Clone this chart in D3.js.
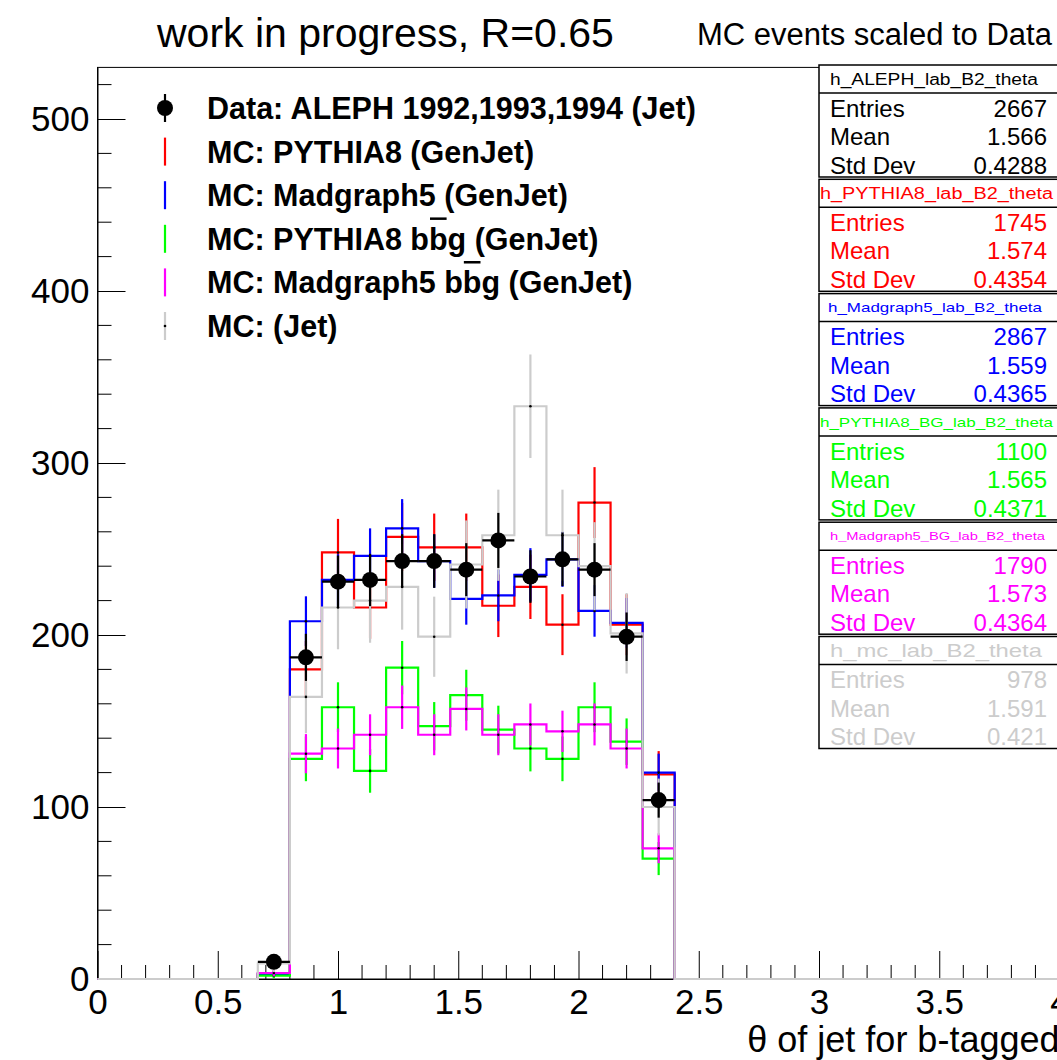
<!DOCTYPE html>
<html>
<head>
<meta charset="utf-8">
<script src="https://cdn.jsdelivr.net/npm/d3@7"></script>
<style>
  body { margin: 0; background: #fff; }
  svg { display: block; font-family: "Liberation Sans", Arial, Helvetica, sans-serif; }
</style>
</head>
<body>
<svg id="chart" width="1057" height="1060"></svg>
<script>
// ---- binning: 30 equal bins on [0, 4]; filled bins start at bin index 5 ----
const xMin = 0, xMax = 4, nBins = 30, firstBin = 5;

// ---- bin contents (bins 5..17) and their errors ----
const dataValues    = [10, 187, 231, 232, 243, 243, 238, 255, 234, 244, 238, 199, 104];
const dataErrors    = [3.2, 13.7, 15.2, 15.2, 15.6, 15.6, 15.4, 16.0, 15.3, 15.6, 15.4, 14.1, 10.2];

const pythiaValues  = [3, 180, 248, 216, 257, 251, 251, 217, 228, 206, 277, 206, 119];
const pythiaErrors  = [2.1, 16.6, 19.5, 18.2, 19.8, 19.6, 19.6, 18.2, 18.7, 17.7, 20.6, 17.7, 13.5];

const madgraphValues = [3, 208, 232, 246, 262, 243, 221, 223, 235, 244, 214, 207, 120];
const madgraphErrors = [2, 14.5, 15, 16, 17, 15.5, 15, 15, 15.5, 16, 15, 14.5, 11];

const pythiaBbgValues = [2, 128, 158, 121, 181, 147, 165, 145, 134, 128, 158, 138, 70];
const pythiaBbgErrors = [1.6, 13.0, 14.5, 12.7, 15.5, 14.0, 14.8, 13.9, 13.3, 13.0, 14.5, 13.5, 9.6];

const madgraphBbgValues = [3.5, 131, 134, 142, 158, 142, 157, 142, 148, 144, 148, 134, 76];
const madgraphBbgErrors = [1.9, 11.4, 11.6, 11.9, 12.6, 11.9, 12.5, 11.9, 12.2, 12.0, 12.2, 11.6, 8.7];

const jetValues = [9, 164, 216, 220, 228, 199, 241, 258, 333, 258, 240, 201, 100];
const jetErrors = [5.0, 21.1, 24.3, 24.5, 24.9, 23.3, 25.6, 26.5, 30.1, 26.5, 25.6, 23.4, 16.5];

// ---- legend labels ----
const legendLabels = [
  "Data: ALEPH 1992,1993,1994 (Jet)",
  "MC: PYTHIA8 (GenJet)",
  "MC: Madgraph5 (GenJet)",
  "MC: PYTHIA8 bbg (GenJet)",
  "MC: Madgraph5 bbg (GenJet)",
  "MC: (Jet)"
];

// ---- statistics boxes ----
const statNames   = ["h_ALEPH_lab_B2_theta", "h_PYTHIA8_lab_B2_theta", "h_Madgraph5_lab_B2_theta",
                     "h_PYTHIA8_BG_lab_B2_theta", "h_Madgraph5_BG_lab_B2_theta", "h_mc_lab_B2_theta"];
const statEntries = ["2667", "1745", "2867", "1100", "1790", "978"];
const statMeans   = ["1.566", "1.574", "1.559", "1.565", "1.573", "1.591"];
const statStdDevs = ["0.4288", "0.4354", "0.4365", "0.4371", "0.4364", "0.421"];

// ---- axis ticks ----
const xTickValues = [0, 0.5, 1, 1.5, 2, 2.5, 3, 3.5, 4];
const xTickLabels = ["0", "0.5", "1", "1.5", "2", "2.5", "3", "3.5", "4"];
const yTickValues = [0, 100, 200, 300, 400, 500];
const yTickLabels = ["0", "100", "200", "300", "400", "500"];

// ---- styling ----
const colors = { data: "#000000", pythia: "#ff0000", madgraph: "#0000ff",
                 pythiaBbg: "#00ff00", madgraphBbg: "#ff00ff", jet: "#cccccc" };
const statColors = ["#000000", "#ff0000", "#0000ff", "#00ff00", "#ff00ff", "#cccccc"];
// per-box title font size and horizontal extent
const statTitleStyle = [
  { fs: 16, x0: 830, x1: 1038 }, { fs: 16, x0: 820, x1: 1053 }, { fs: 13, x0: 828, x1: 1042 },
  { fs: 13, x0: 820, x1: 1053 }, { fs: 10.5, x0: 830, x1: 1045 }, { fs: 19, x0: 830, x1: 1042 }
];

const svg = d3.select("#chart");
const W = 1057, H = 1060;
svg.append("rect").attr("width", W).attr("height", H).attr("fill", "#fff");

const x = d3.scaleLinear().domain([xMin, xMax]).range([97.5, 1059.5]);
const y = d3.scaleLinear().domain([0, 530]).range([979, 67.4]);
const binW = (xMax - xMin) / nBins;

// pad a filled-bin array out to the full 30 bins
function fullBins(vals) {
  const out = new Array(nBins).fill(0);
  vals.forEach((v, i) => { out[firstBin + i] = v; });
  return out;
}

// ---- frame ----
svg.append("rect")
  .attr("x", x(xMin)).attr("y", y(530))
  .attr("width", x(xMax) - x(xMin)).attr("height", y(0) - y(530))
  .attr("fill", "none").attr("stroke", "#000").attr("stroke-width", 1);

// ---- axes (ticks pointing into the frame) ----
const majorLen = 28, minorLen = 14, labelFs = 35;
const xAxis = d3.axisBottom(x).tickValues(xTickValues)
  .tickFormat((d, i) => xTickLabels[i]).tickSizeInner(-majorLen).tickSizeOuter(0).tickPadding(10);
const gx = svg.append("g").attr("transform", `translate(0,${y(0)})`).call(xAxis);
const xMinor = d3.range(0, 41).map(i => i * 0.1).filter(v => Math.abs(v * 2 - Math.round(v * 2)) > 1e-6);
gx.selectAll(".minor").data(xMinor).enter().append("line").attr("class", "minor")
  .attr("x1", d => x(d)).attr("x2", d => x(d)).attr("y1", 0).attr("y2", -minorLen)
  .attr("stroke", "#000");

const yAxis = d3.axisLeft(y).tickValues(yTickValues)
  .tickFormat((d, i) => yTickLabels[i]).tickSizeInner(-majorLen).tickSizeOuter(0).tickPadding(8);
const gy = svg.append("g").attr("transform", `translate(${x(0)},0)`).call(yAxis);
const yMinor = d3.range(0, 531, 20).filter(v => v % 100 !== 0);
gy.selectAll(".minor").data(yMinor).enter().append("line").attr("class", "minor")
  .attr("y1", d => y(d)).attr("y2", d => y(d)).attr("x1", 0).attr("x2", minorLen)
  .attr("stroke", "#000");

[gx, gy].forEach(g => {
  g.select(".domain").attr("stroke", "#000").attr("stroke-width", 1);
  g.selectAll(".tick line").attr("stroke", "#000");
  g.selectAll(".tick text").attr("font-size", labelFs).attr("fill", "#000")
    .attr("font-family", '"Liberation Sans", Arial, sans-serif');
});

// x-axis title, right-aligned on the axis end
svg.append("text").attr("x", x(xMax)).attr("y", 1052).attr("text-anchor", "end")
  .attr("font-size", 36).text("θ of jet for b-tagged");

// ---- MC histograms: step outline + vertical error bars + small centre dots ----
function drawHist(vals, errs, color) {
  const full = fullBins(vals);
  const pts = [];
  full.forEach((v, i) => {
    const lo = xMin + i * binW, hi = lo + binW;
    pts.push([x(lo), y(v)], [x(hi), y(v)]);
  });
  const g = svg.append("g");
  g.append("path").attr("d", d3.line()(pts))
    .attr("fill", "none").attr("stroke", color).attr("stroke-width", 2.2);
  const bins = vals.map((v, i) => ({ c: xMin + (firstBin + i + 0.5) * binW, v, e: errs[i] }));
  g.selectAll(".err").data(bins).enter().append("line")
    .attr("x1", d => x(d.c)).attr("x2", d => x(d.c))
    .attr("y1", d => y(d.v - d.e)).attr("y2", d => y(d.v + d.e))
    .attr("stroke", color).attr("stroke-width", 2.2);
  g.selectAll(".dot").data(bins).enter().append("circle")
    .attr("cx", d => x(d.c)).attr("cy", d => y(d.v)).attr("r", 1.3).attr("fill", "#000");
}

drawHist(pythiaValues, pythiaErrors, colors.pythia);
drawHist(madgraphValues, madgraphErrors, colors.madgraph);
drawHist(pythiaBbgValues, pythiaBbgErrors, colors.pythiaBbg);
drawHist(madgraphBbgValues, madgraphBbgErrors, colors.madgraphBbg);
drawHist(jetValues, jetErrors, colors.jet);

// ---- data points: filled circles with x and y error bars ----
const dataBins = dataValues.map((v, i) => ({ c: xMin + (firstBin + i + 0.5) * binW, v, e: dataErrors[i] }));
const gd = svg.append("g");
gd.selectAll(".ex").data(dataBins).enter().append("line")
  .attr("x1", d => x(d.c - binW / 2)).attr("x2", d => x(d.c + binW / 2))
  .attr("y1", d => y(d.v)).attr("y2", d => y(d.v))
  .attr("stroke", "#000").attr("stroke-width", 2.2);
gd.selectAll(".ey").data(dataBins).enter().append("line")
  .attr("x1", d => x(d.c)).attr("x2", d => x(d.c))
  .attr("y1", d => y(d.v - d.e)).attr("y2", d => y(d.v + d.e))
  .attr("stroke", "#000").attr("stroke-width", 2.2);
gd.selectAll("circle").data(dataBins).enter().append("circle")
  .attr("cx", d => x(d.c)).attr("cy", d => y(d.v)).attr("r", 8).attr("fill", "#000");

// ---- legend ----
const legendColors = [colors.data, colors.pythia, colors.madgraph, colors.pythiaBbg, colors.madgraphBbg, colors.jet];
const legX = 165, legTextX = 207, legY0 = 108, legDy = 43.6, legFs = 30.5;
legendLabels.forEach((lab, i) => {
  const cy = legY0 + i * legDy;
  svg.append("line").attr("x1", legX).attr("x2", legX).attr("y1", cy - 14).attr("y2", cy + 14)
    .attr("stroke", legendColors[i]).attr("stroke-width", 2.2);
  if (i === 0) svg.append("circle").attr("cx", legX).attr("cy", cy).attr("r", 8).attr("fill", "#000");
  if (i === 5) svg.append("circle").attr("cx", legX).attr("cy", cy).attr("r", 1.3).attr("fill", "#000");
  const t = svg.append("text").attr("x", legTextX).attr("y", cy + legFs * 0.36)
    .attr("font-size", legFs).attr("font-weight", "bold").text(lab);
  const k = lab.indexOf("bbg");
  if (k >= 0) {
    const node = t.node();
    const s = node.getStartPositionOfChar(k + 1).x;
    const e = node.getEndPositionOfChar(k + 1).x;
    const by = cy + legFs * 0.36 - legFs * 1.02;
    svg.append("line").attr("x1", s + 1).attr("x2", e - 1).attr("y1", by).attr("y2", by)
      .attr("stroke", "#000").attr("stroke-width", 2.5);
  }
});

// ---- statistics boxes ----
const boxX0 = 819, boxX1 = 1062, boxTop0 = 65, boxStep = 114.3, boxH = 112, titleH = 28;
const statFs = 24;
statNames.forEach((name, i) => {
  const top = boxTop0 + i * boxStep;
  const col = statColors[i];
  const g = svg.append("g");
  g.append("rect").attr("x", boxX0).attr("y", top).attr("width", boxX1 - boxX0).attr("height", boxH)
    .attr("fill", "#fff").attr("stroke", "#000").attr("stroke-width", 1.5);
  g.append("line").attr("x1", boxX0).attr("x2", boxX1).attr("y1", top + titleH).attr("y2", top + titleH)
    .attr("stroke", "#000").attr("stroke-width", 1.5);
  const st = statTitleStyle[i];
  g.append("text").attr("x", st.x0).attr("y", top + titleH / 2 + st.fs * 0.36)
    .attr("font-size", st.fs).attr("fill", col)
    .attr("textLength", st.x1 - st.x0).attr("lengthAdjust", "spacingAndGlyphs").text(name);
  const rows = [["Entries", statEntries[i]], ["Mean", statMeans[i]], ["Std Dev", statStdDevs[i]]];
  rows.forEach((r, j) => {
    const cy = top + 43 + j * 28.5;
    g.append("text").attr("x", 830).attr("y", cy + statFs * 0.36).attr("font-size", statFs)
      .attr("fill", col).text(r[0]);
    g.append("text").attr("x", 1047).attr("y", cy + statFs * 0.36).attr("font-size", statFs)
      .attr("fill", col).attr("text-anchor", "end").text(r[1]);
  });
});

// ---- titles ----
svg.append("text").attr("x", 157).attr("y", 47).attr("font-size", 41).text("work in progress, R=0.65");
svg.append("text").attr("x", 697).attr("y", 45).attr("font-size", 31).text("MC events scaled to Data");
</script>
</body>
</html>
